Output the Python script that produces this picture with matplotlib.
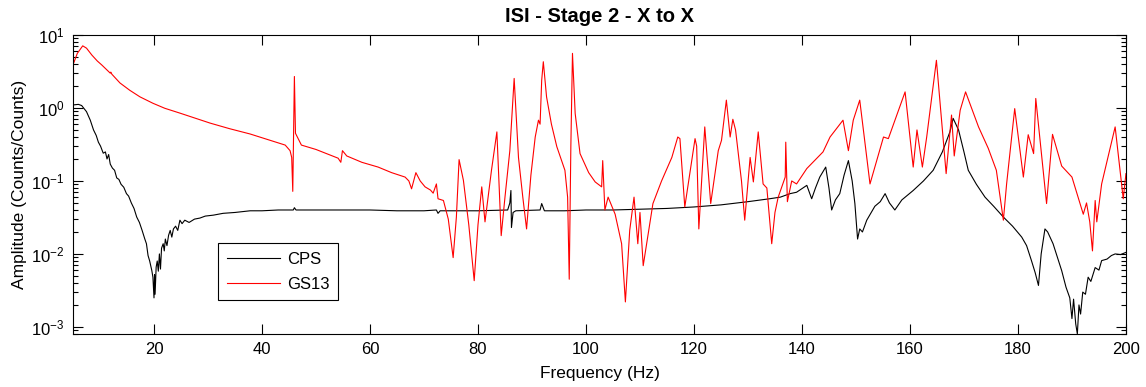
"""ISI Stage 2 X-to-X transfer function: CPS vs GS13 amplitude."""

import numpy as np
import matplotlib
matplotlib.use("Agg")
import matplotlib.pyplot as plt
from matplotlib.ticker import LogLocator, NullFormatter

plt.rcParams["font.family"] = ["Liberation Sans", "DejaVu Sans"]
plt.rcParams["mathtext.fontset"] = "custom"
plt.rcParams["mathtext.rm"] = "Liberation Sans"

TITLE = "ISI - Stage 2 - X to X"
XLABEL = "Frequency (Hz)"
YLABEL = "Amplitude (Counts/Counts)"
SERIES_NAMES = ["CPS", "GS13"]
X_TICKS = [20, 40, 60, 80, 100, 120, 140, 160, 180, 200]

# (frequency Hz, amplitude)
CPS = [
    (5.0, 1.10), (6.0, 1.12), (6.6, 1.08), (7.5, 0.89), (8.2, 0.68), (8.8, 0.50),
    (9.3, 0.42), (9.7, 0.34), (10.1, 0.30), (10.6, 0.24), (11.0, 0.25), (11.3, 0.20),
    (11.6, 0.23), (11.9, 0.17), (12.3, 0.15), (12.7, 0.14), (13.1, 0.11), (13.5, 0.105),
    (13.9, 0.09), (14.4, 0.082), (14.9, 0.067), (15.3, 0.062), (15.8, 0.050), (16.3, 0.042),
    (16.8, 0.032), (17.3, 0.027), (17.8, 0.021), (18.3, 0.016), (18.6, 0.0138), (18.9, 0.0095),
    (19.2, 0.0080), (19.6, 0.0059), (19.8, 0.0048), (20.0, 0.0025), (20.1, 0.0052), (20.2, 0.0028),
    (20.4, 0.0066), (20.6, 0.0080), (20.8, 0.0058), (21.0, 0.0100), (21.2, 0.0062), (21.4, 0.0120),
    (21.7, 0.0138), (21.9, 0.011), (22.1, 0.016), (22.4, 0.013), (22.7, 0.018), (23.0, 0.021),
    (23.3, 0.017), (23.6, 0.022), (24.0, 0.024), (24.4, 0.021), (24.8, 0.029), (25.2, 0.026),
    (25.7, 0.029), (26.5, 0.027), (27.5, 0.030), (28.5, 0.031), (29.5, 0.033), (31.0, 0.034),
    (32.8, 0.036), (35.0, 0.037), (37.8, 0.039), (40.0, 0.039), (43.0, 0.040), (45.8, 0.040),
    (46.0, 0.043), (46.3, 0.040), (50.0, 0.040), (55.0, 0.040), (60.0, 0.040), (65.0, 0.039),
    (70.0, 0.039), (72.3, 0.040), (72.6, 0.036), (73.0, 0.039), (80.0, 0.039), (85.5, 0.040),
    (85.9, 0.050), (86.1, 0.074), (86.2, 0.023), (86.5, 0.037), (87.0, 0.039), (91.5, 0.040),
    (91.8, 0.049), (92.3, 0.039), (96.0, 0.039), (100.0, 0.040), (105.0, 0.040), (110.0, 0.041),
    (115.0, 0.042), (120.0, 0.044), (125.0, 0.047), (130.0, 0.052), (134.0, 0.057), (136.0, 0.060),
    (137.8, 0.067), (139.0, 0.070), (140.9, 0.087), (141.8, 0.057), (142.5, 0.080), (143.3, 0.113),
    (144.4, 0.155), (145.0, 0.080), (145.5, 0.040), (146.2, 0.055), (147.0, 0.067), (147.8, 0.12),
    (148.6, 0.19), (149.3, 0.10), (149.8, 0.049), (150.3, 0.016), (150.7, 0.022), (151.2, 0.020),
    (152.0, 0.029), (153.5, 0.045), (154.5, 0.052), (155.4, 0.067), (156.2, 0.050), (157.2, 0.040),
    (158.5, 0.055), (160.6, 0.074), (162.5, 0.100), (164.3, 0.14), (166.0, 0.25), (167.4, 0.47),
    (168.0, 0.72), (169.0, 0.50), (170.0, 0.25), (170.8, 0.14), (172.3, 0.090), (173.9, 0.060),
    (175.5, 0.045), (177.3, 0.032), (179.0, 0.024), (180.7, 0.017), (181.6, 0.013), (182.5, 0.0081),
    (183.2, 0.0055), (183.8, 0.0037), (184.3, 0.010), (185.0, 0.022), (185.5, 0.020), (186.5, 0.0138),
    (187.3, 0.009), (188.1, 0.0059), (188.9, 0.0035), (189.6, 0.0025), (190.0, 0.0013), (190.3, 0.0024),
    (190.7, 0.0011), (191.0, 0.0008), (191.3, 0.0020), (191.6, 0.0015), (192.0, 0.0030), (192.5, 0.0028),
    (193.0, 0.0048), (193.5, 0.0042), (194.3, 0.0065), (195.0, 0.0060), (195.5, 0.0081), (196.5, 0.0085),
    (197.3, 0.0095), (198.0, 0.0100), (199.0, 0.0098), (200.0, 0.0105),
]

GS13 = [
    (5.0, 3.9), (5.8, 5.6), (6.8, 7.1), (7.5, 6.6), (8.5, 5.3), (9.5, 4.4), (10.3, 3.9),
    (11.5, 3.2), (11.9, 3.0), (12.0, 3.1), (12.2, 2.9), (13.7, 2.2), (15.5, 1.75), (17.4, 1.42),
    (19.8, 1.16), (22.0, 0.99), (24.8, 0.85), (27.5, 0.73), (30.4, 0.62), (34.0, 0.52),
    (37.8, 0.44), (41.0, 0.37), (44.3, 0.31), (45.2, 0.26), (45.5, 0.21), (45.7, 0.072),
    (46.0, 2.7), (46.2, 0.45), (47.3, 0.31), (50.0, 0.27), (54.1, 0.205), (54.6, 0.18),
    (54.9, 0.26), (55.7, 0.22), (58.5, 0.18), (61.5, 0.155), (64.0, 0.13), (66.5, 0.113),
    (67.2, 0.10), (67.7, 0.078), (68.5, 0.13), (69.3, 0.10), (70.2, 0.083), (71.2, 0.075),
    (71.7, 0.068), (72.3, 0.091), (72.6, 0.057), (73.6, 0.054), (74.5, 0.030), (75.4, 0.0089),
    (76.0, 0.032), (76.5, 0.196), (77.3, 0.102), (78.3, 0.025), (79.3, 0.0043), (80.0, 0.025),
    (80.7, 0.083), (81.3, 0.0275), (82.5, 0.14), (83.5, 0.47), (84.3, 0.0178), (85.0, 0.06),
    (85.9, 0.26), (86.7, 2.54), (87.5, 0.21), (88.3, 0.06), (89.0, 0.022), (89.8, 0.12),
    (90.6, 0.40), (91.2, 0.68), (91.5, 0.60), (91.8, 2.4), (92.1, 4.3), (92.7, 1.42),
    (93.6, 0.60), (94.6, 0.295), (96.1, 0.14), (96.6, 0.06), (96.9, 0.0045), (97.2, 0.3),
    (97.5, 5.6), (98.0, 0.84), (98.9, 0.237), (100.5, 0.13), (101.7, 0.097), (102.9, 0.083),
    (103.1, 0.19), (103.5, 0.04), (104.1, 0.06), (105.4, 0.035), (106.6, 0.0138), (107.3, 0.0022),
    (108.1, 0.021), (108.9, 0.06), (109.6, 0.0138), (110.0, 0.037), (110.6, 0.0069), (112.4, 0.049),
    (114.0, 0.10), (115.9, 0.21), (117.0, 0.40), (117.4, 0.38), (118.3, 0.044), (120.2, 0.38),
    (120.5, 0.30), (120.9, 0.022), (122.0, 0.55), (123.1, 0.049), (124.5, 0.26), (125.1, 0.36),
    (126.0, 1.28), (126.7, 0.40), (127.2, 0.70), (127.7, 0.50), (128.8, 0.10), (129.4, 0.029),
    (130.4, 0.21), (131.0, 0.097), (131.9, 0.47), (132.8, 0.091), (133.5, 0.08), (134.4, 0.0138),
    (135.0, 0.037), (135.6, 0.06), (136.9, 0.113), (137.0, 0.34), (137.3, 0.052), (138.1, 0.10),
    (139.0, 0.091), (140.9, 0.148), (143.9, 0.25), (145.2, 0.40), (147.6, 0.68), (148.6, 0.26),
    (149.5, 0.68), (150.7, 1.28), (152.6, 0.091), (155.1, 0.40), (156.0, 0.38), (159.1, 1.66),
    (160.6, 0.155), (161.3, 0.50), (162.3, 0.155), (163.1, 0.40), (164.9, 4.5), (166.7, 0.126),
    (167.7, 0.80), (168.2, 0.22), (169.3, 0.93), (170.3, 1.66), (172.7, 0.55), (174.5, 0.28),
    (176.0, 0.14), (177.3, 0.029), (177.9, 0.091), (179.4, 0.98), (181.0, 0.113), (181.9, 0.43),
    (182.9, 0.237), (183.3, 1.35), (185.3, 0.049), (186.4, 0.435), (188.1, 0.16), (190.0, 0.113),
    (192.1, 0.035), (192.7, 0.05), (193.3, 0.0275), (193.8, 0.011), (194.3, 0.054), (194.6, 0.0275),
    (195.5, 0.091), (198.0, 0.55), (199.5, 0.057), (200.0, 0.126),
]


def main():
    fig = plt.figure(figsize=(11.46, 3.87), dpi=100)
    ax = fig.add_axes([0.0637, 0.137, 0.9188, 0.7726])

    cps_f, cps_a = np.array(CPS).T
    gs_f, gs_a = np.array(GS13).T
    ax.semilogy(cps_f, cps_a, color="black", lw=0.8, label=SERIES_NAMES[0])
    ax.semilogy(gs_f, gs_a, color="#ff0000", lw=0.8, label=SERIES_NAMES[1])

    ax.set_xlim(5, 200)
    ax.set_ylim(8e-4, 10)
    ax.set_xticks(X_TICKS)
    ax.yaxis.set_major_locator(LogLocator(base=10, numticks=10))
    ax.yaxis.set_minor_locator(LogLocator(base=10, subs=np.arange(2, 10), numticks=10))
    ax.yaxis.set_minor_formatter(NullFormatter())
    ax.tick_params(which="both", direction="in", top=True, right=True, labelsize=12,
                   width=0.8, pad=6)
    ax.tick_params(which="major", length=7)
    ax.tick_params(which="minor", length=3.5)
    ax.tick_params(axis="x", which="minor", bottom=False, top=False)
    for s in ax.spines.values():
        s.set_linewidth(0.8)

    ax.set_title(TITLE, fontsize=14.5, fontweight="bold", pad=9)
    ax.set_xlabel(XLABEL, fontsize=12.5, labelpad=6)
    ax.set_ylabel(YLABEL, fontsize=12.5, labelpad=3)

    leg = ax.legend(loc="lower left", bbox_to_anchor=(0.138, 0.114), fontsize=12,
                    handlelength=3.2, handletextpad=0.45, fancybox=False, framealpha=1,
                    borderpad=0.5, labelspacing=0.6, borderaxespad=0)
    leg.get_frame().set_edgecolor("black")
    leg.get_frame().set_linewidth(0.8)

    fig.savefig("out.png", dpi=100)


if __name__ == "__main__":
    main()
